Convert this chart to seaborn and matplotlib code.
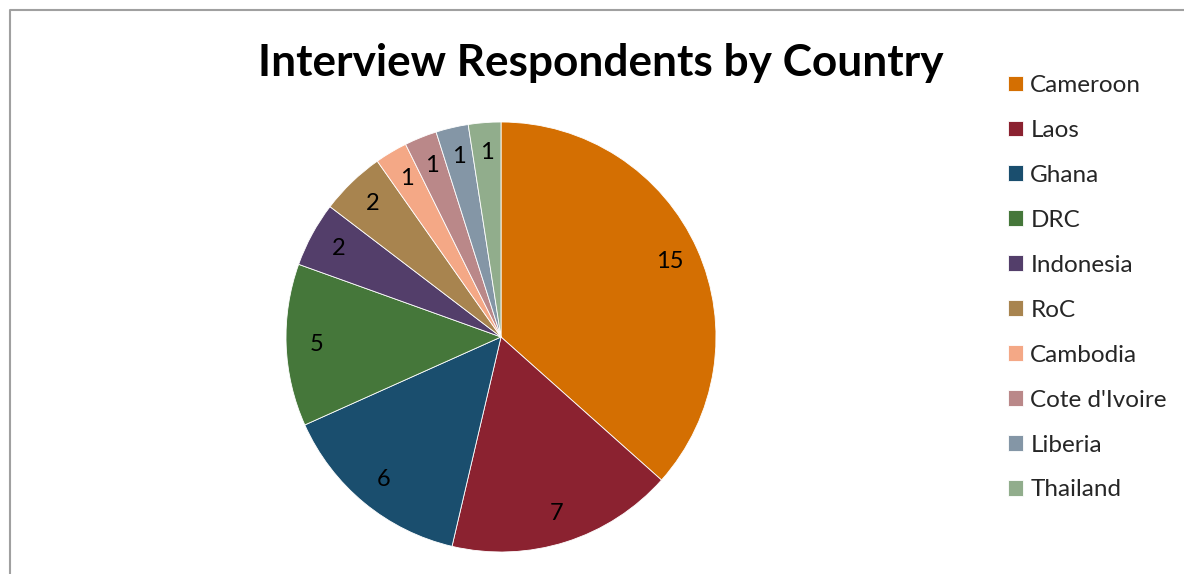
import matplotlib
matplotlib.use("Agg")
import matplotlib.pyplot as plt
import seaborn as sns
from matplotlib.lines import Line2D

countries = ["Cameroon", "Laos", "Ghana", "DRC", "Indonesia", "RoC",
             "Cambodia", "Cote d'Ivoire", "Liberia", "Thailand"]
respondents = [15, 7, 6, 5, 2, 2, 1, 1, 1, 1]
colors = ["#D46F02", "#8B2230", "#1A4E6E", "#45773A", "#533E6A", "#A8844F",
          "#F4A886", "#BA8889", "#8496A6", "#91AD8C"]
title = "Interview Respondents by Country"

sns.set_theme(style="white")
plt.rcParams['font.family'] = ['Lato', 'DejaVu Sans']

W, H = 1184, 574
fig = plt.figure(figsize=(W / 100, H / 100), dpi=100)
fig.patch.set_facecolor("white")

cx, cy, r = 501, 337, 215
ax = fig.add_axes([(cx - r) / W, (H - cy - r) / H, 2 * r / W, 2 * r / H])
total = sum(respondents)
wedges, texts, autotexts = ax.pie(
    respondents, colors=colors, startangle=90, counterclock=False,
    autopct=lambda p: f"{round(p * total / 100):d}", pctdistance=0.86,
    wedgeprops=dict(edgecolor="white", linewidth=0.6),
    textprops=dict(fontsize=17, color="black"))
ax.set_xlim(-1, 1)
ax.set_ylim(-1, 1)
ax.set_aspect("equal")
ax.axis("off")

fig.text(601 / W, 1 - 63 / H, title, ha="center", va="center",
         fontsize=31.8, fontweight="bold", color="black")

fig.legend(wedges, countries, loc="upper left",
           bbox_to_anchor=(1008 / W, 1 - 75 / H), frameon=False,
           fontsize=17.5, handlelength=0.62, handleheight=0.62,
           handletextpad=0.3, labelspacing=0.985, borderpad=0,
           borderaxespad=0)

# chart area border (left and top edges visible)
fig.add_artist(Line2D([10 / W, 10 / W, 1.0], [0, 1 - 10 / H, 1 - 10 / H],
                      transform=fig.transFigure, color="#a0a0a0", linewidth=1.5))

fig.savefig("out.png", dpi=100)
